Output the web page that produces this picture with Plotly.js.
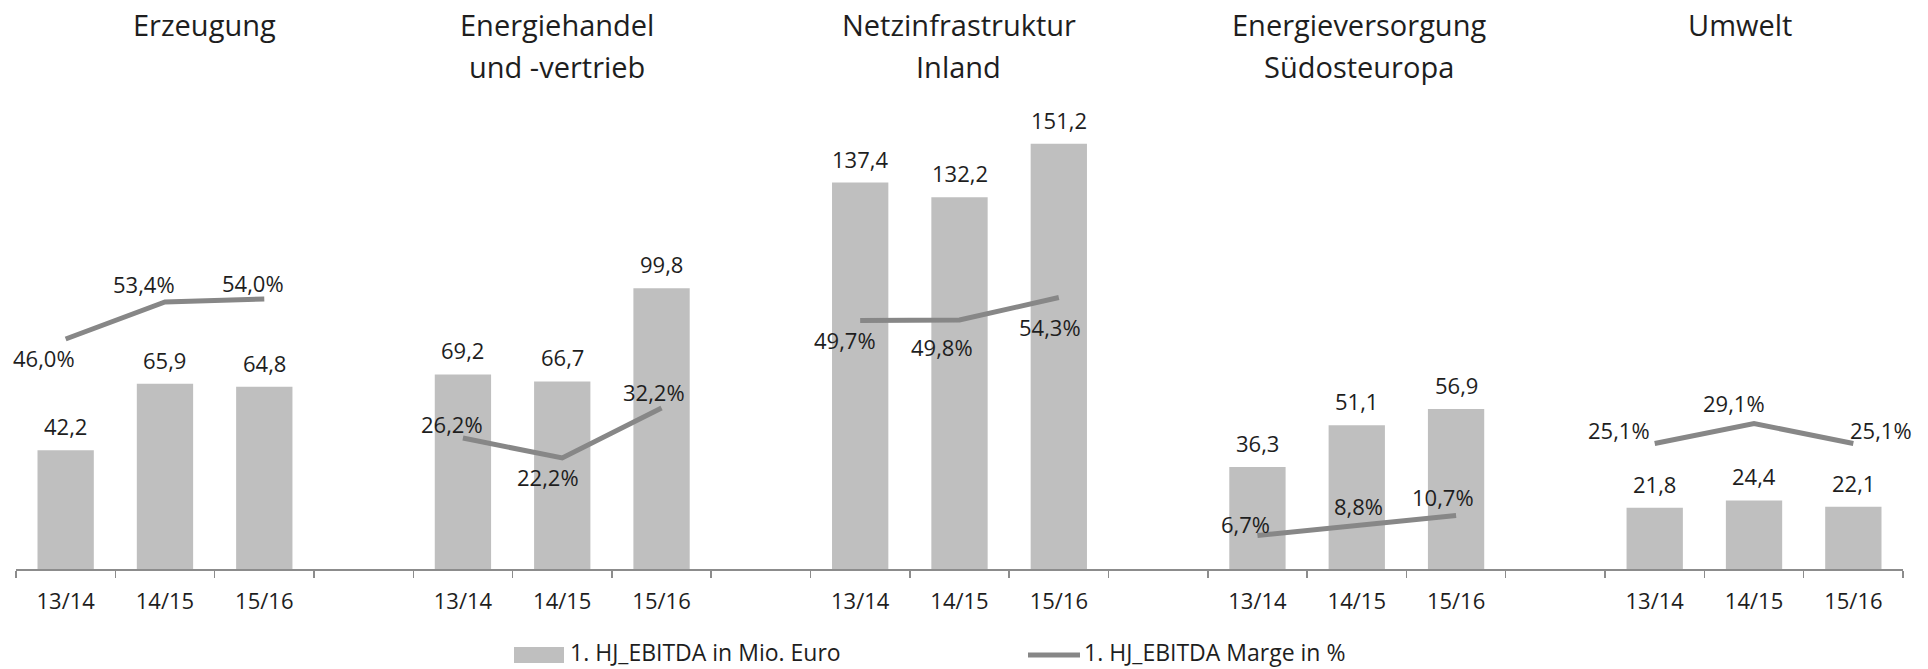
<!DOCTYPE html>
<html>
<head>
<meta charset="utf-8">
<script src="https://cdn.plot.ly/plotly-3.0.1.min.js"></script>
<style>
  html, body { margin: 0; padding: 0; background: #ffffff; }
  #chart { width: 1928px; height: 669px; }
</style>
</head>
<body>
<div id="chart"></div>
<script>
// ---------- data ----------
const groups = ["Erzeugung", "Energiehandel und -vertrieb", "Netzinfrastruktur Inland", "Energieversorgung Südosteuropa", "Umwelt"];
const groupTitleLines = [["Erzeugung"], ["Energiehandel", "und -vertrieb"], ["Netzinfrastruktur", "Inland"], ["Energieversorgung", "Südosteuropa"], ["Umwelt"]];
const periods = ["13/14", "14/15", "15/16"];
const ebitda = [
  [42.2, 65.9, 64.8],
  [69.2, 66.7, 99.8],
  [137.4, 132.2, 151.2],
  [36.3, 51.1, 56.9],
  [21.8, 24.4, 22.1]
];
const marge = [
  [46.0, 53.4, 54.0],
  [26.2, 22.2, 32.2],
  [49.7, 49.8, 54.3],
  [6.7, 8.8, 10.7],
  [25.1, 29.1, 25.1]
];
const seriesBar = "1. HJ_EBITDA in Mio. Euro";
const seriesLine = "1. HJ_EBITDA Marge in %";

// ---------- label placement (style, pixels: dx right, dy down) ----------
const margeLabelOffsets = [
  [[-22, 19], [-21, -18], [-11, -16]],
  [[-11, -14], [-14, 19], [-8, -16]],
  [[-15, 19], [-18, 27], [-9, 29]],
  [[-12, -12], [2, -19], [-13, -19]],
  [[-36, -14], [-20, -21], [28, -14]]
];
const titleXShift = [40, -5, -1, 2, -14];

// ---------- build categories ----------
const cats = [], tickText = [];
const barX = [], barY = [];
const lineX = [], lineY = [];
groups.forEach((g, gi) => {
  periods.forEach((p, pi) => {
    const c = g + "|" + p;
    cats.push(c); tickText.push(p);
    barX.push(c); barY.push(ebitda[gi][pi]);
    lineX.push(c); lineY.push(marge[gi][pi]);
  });
  if (gi < groups.length - 1) {
    const gap = "gap" + gi;
    cats.push(gap); tickText.push("");
    lineX.push(gap); lineY.push(null);
  }
});

const fmt = v => v.toFixed(1).replace(".", ",");
const txtColor = "#1e1e1e";
const FONT = "Open Sans, Noto Sans, DejaVu Sans, sans-serif";

// plot area geometry
const ml = 16, mr = 25, mt = 119, mb = 100;
const plotBottom = 669 - mb, plotH = 669 - mt - mb;
const plotW = 1928 - ml - mr;
const paperY = px => (plotBottom - px) / plotH;
const paperX = px => (px - ml) / plotW;

const annotations = [];
groups.forEach((g, gi) => {
  periods.forEach((p, pi) => {
    // bar value labels
    annotations.push({
      x: g + "|" + p, y: ebitda[gi][pi], xref: "x", yref: "y",
      text: fmt(ebitda[gi][pi]), showarrow: false,
      xanchor: "center", yanchor: "middle", yshift: 24,
      font: {family: FONT, size: 22, color: txtColor}
    });
    // margin labels
    const off = margeLabelOffsets[gi][pi];
    annotations.push({
      x: g + "|" + p, y: marge[gi][pi], xref: "x", yref: "y2",
      text: fmt(marge[gi][pi]) + "%", showarrow: false,
      xanchor: "center", yanchor: "middle", xshift: off[0], yshift: -off[1],
      font: {family: FONT, size: 22, color: txtColor}
    });
  });
  // group titles
  groupTitleLines[gi].forEach((ln, li) => {
    annotations.push({
      x: g + "|" + periods[1], xref: "x", yref: "paper",
      y: paperY(li === 0 ? 24 : 67), xshift: titleXShift[gi],
      text: ln, showarrow: false, xanchor: "center", yanchor: "middle",
      font: {family: FONT, size: 29, color: txtColor}
    });
  });
});

// custom legend
const legendY = 652;
annotations.push({
  x: paperX(568), xref: "paper", y: paperY(legendY), yref: "paper",
  text: seriesBar, showarrow: false, xanchor: "left", yanchor: "middle",
  font: {family: FONT, size: 23, color: txtColor}
});
annotations.push({
  x: paperX(1082), xref: "paper", y: paperY(legendY), yref: "paper",
  text: seriesLine, showarrow: false, xanchor: "left", yanchor: "middle",
  font: {family: FONT, size: 23, color: txtColor}
});

const shapes = [
  {type: "rect", xref: "paper", yref: "paper",
   x0: paperX(514), x1: paperX(564), y0: paperY(663), y1: paperY(647),
   fillcolor: "#bfbfbf", line: {width: 0}},
  {type: "line", xref: "paper", yref: "paper",
   x0: paperX(1028), x1: paperX(1080), y0: paperY(655), y1: paperY(655),
   line: {color: "#878787", width: 5}}
];

const traces = [
  {
    type: "bar", name: seriesBar, x: barX, y: barY,
    marker: {color: "#bfbfbf", line: {width: 0}},
    hoverinfo: "x+y", showlegend: false
  },
  {
    type: "scatter", mode: "lines", name: seriesLine, x: lineX, y: lineY, yaxis: "y2",
    line: {color: "#878787", width: 5}, connectgaps: false,
    hoverinfo: "x+y", showlegend: false
  }
];

const layout = {
  width: 1928, height: 669,
  margin: {l: ml, r: mr, t: mt, b: mb, pad: 0},
  paper_bgcolor: "#ffffff", plot_bgcolor: "#ffffff",
  font: {family: FONT, size: 21, color: txtColor},
  bargap: 0.433,
  showlegend: false,
  xaxis: {
    type: "category", categoryorder: "array", categoryarray: cats,
    range: [-0.5, cats.length - 0.5],
    tickmode: "array", tickvals: cats, ticktext: tickText,
    tickson: "boundaries", ticks: "outside", ticklen: 7, tickwidth: 1.5, tickcolor: "#8c8c8c",
    showline: true, linecolor: "#8c8c8c", linewidth: 1.5,
    showgrid: false, zeroline: false,
    tickfont: {family: FONT, size: 22, color: txtColor},
    ticklabelstandoff: 12,
    fixedrange: true
  },
  yaxis: {range: [0, 160], visible: false, showgrid: false, zeroline: false, fixedrange: true},
  yaxis2: {range: [0, 90], overlaying: "y", side: "right", visible: false, showgrid: false, zeroline: false, fixedrange: true},
  annotations: annotations,
  shapes: shapes
};

Plotly.newPlot("chart", traces, layout, {displayModeBar: false, staticPlot: true});
</script>
</body>
</html>
